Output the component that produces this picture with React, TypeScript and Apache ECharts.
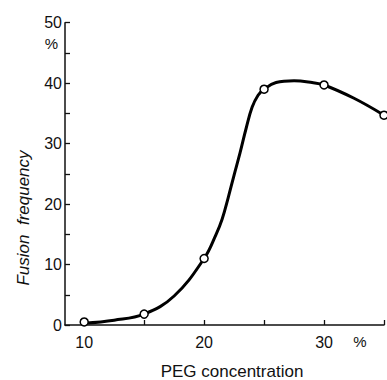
import React, { useEffect, useRef } from "react";
import * as echarts from "echarts";

// Measured points (open circles)
const pegX = [10, 15, 20, 25, 30, 35];
const fusionY = [0.5, 1.8, 11, 39, 39.7, 34.7];

// Hand-drawn fitted curve
const curveX = [10, 12.5, 15, 17.5, 20, 21, 21.5, 22, 22.5, 23, 23.5, 24, 24.5, 25, 26, 27.5, 29, 30, 32.5, 35];
const curveY = [0.3, 0.8, 1.8, 4.8, 11, 15, 17.5, 21, 24.8, 28.5, 32.5, 36, 38, 39, 40.1, 40.4, 40.1, 39.7, 37.5, 34.7];

const xTicks = [10, 15, 20, 25, 30, 35];
const xLabels = [10, 20, 30];
const yLabels = [0, 10, 20, 30, 40, 50];

const xTitle = "PEG concentration";
const yTitle = "Fusion  frequency";
const unit = "%";

const FONT = "'Liberation Sans', Arial, sans-serif";

export default function App() {
  const ref = useRef<HTMLDivElement>(null);
  useEffect(() => {
    if (!ref.current) return;
    const chart = echarts.init(ref.current, undefined, { renderer: "svg" });
    const axisLine = { show: true, lineStyle: { color: "#111", width: 1.5 } };
    chart.setOption({
      animation: false,
      backgroundColor: "#fff",
      grid: { left: 65, right: 3, top: 22.7, bottom: 55, outerBoundsMode: "none" },
      xAxis: {
        type: "value",
        min: 8.4,
        max: 35,
        axisLine,
        splitLine: { show: false },
        axisTick: { show: true, inside: true, length: 5, customValues: xTicks, lineStyle: { color: "#111", width: 1.3 } },
        axisLabel: { customValues: xLabels, margin: 9, color: "#111", fontSize: 16, fontFamily: FONT },
      },
      yAxis: {
        type: "value",
        min: 0,
        max: 50,
        interval: 5,
        axisLine,
        splitLine: { show: false },
        axisTick: { show: true, inside: true, length: 5, lineStyle: { color: "#111", width: 1.3 } },
        axisLabel: {
          margin: 3,
          color: "#111",
          fontSize: 16,
          fontFamily: FONT,
          formatter: (v: number) => (yLabels.includes(v) ? String(v) : ""),
        },
      },
      series: [
        {
          type: "line",
          data: curveX.map((x, i) => [x, curveY[i]]),
          smooth: 0.4,
          showSymbol: false,
          symbol: "none",
          lineStyle: { color: "#000", width: 3 },
          z: 2,
        },
        {
          type: "scatter",
          data: pegX.map((x, i) => [x, fusionY[i]]),
          symbol: "circle",
          symbolSize: 8,
          itemStyle: { color: "#fff", borderColor: "#000", borderWidth: 1.5, opacity: 1 },
          clip: false,
          z: 3,
        },
      ],
      graphic: [
        {
          type: "text",
          x: 232,
          y: 371,
          style: { text: xTitle, fill: "#111", font: `17px ${FONT}`, align: "center", verticalAlign: "middle" },
        },
        {
          type: "text",
          x: 23,
          y: 218,
          rotation: Math.PI / 2,
          style: { text: yTitle, fill: "#111", font: `italic 17px ${FONT}`, align: "center", verticalAlign: "middle" },
        },
        {
          type: "text",
          x: 58,
          y: 43,
          style: { text: unit, fill: "#111", font: `15px ${FONT}`, align: "right", verticalAlign: "middle" },
        },
        {
          type: "text",
          x: 360,
          y: 341,
          style: { text: unit, fill: "#111", font: `15px ${FONT}`, align: "center", verticalAlign: "middle" },
        },
      ],
    });
    return () => chart.dispose();
  }, []);
  return <div ref={ref} style={{ position: "fixed", left: 0, top: 0, width: 387, height: 380 }} />;
}
